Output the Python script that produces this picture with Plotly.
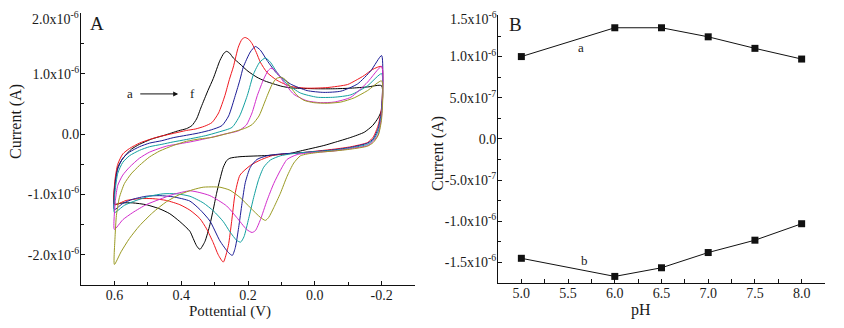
import plotly.graph_objects as go

# ---------------- Panel A: cyclic voltammograms (V, µA), loop: forward then reverse ----------------
a_V = [0.600, 0.598, 0.590, 0.579, 0.565, 0.549, 0.525, 0.489, 0.450, 0.408, 0.384, 0.368, 0.354, 0.340, 0.320, 0.304, 0.284, 0.272, 0.264, 0.255, 0.244, 0.224, 0.200, 0.173, 0.150, 0.123, 0.098, 0.073, 0.030, -0.007, -0.058, -0.108, -0.158, -0.200,
       -0.200, -0.190, -0.173, -0.148, -0.108, -0.058, -0.027, 0.043, 0.073, 0.143, 0.224, 0.254, 0.264, 0.274, 0.284, 0.294, 0.304, 0.314, 0.329, 0.344, 0.354, 0.364, 0.374, 0.404, 0.434, 0.464, 0.505, 0.545, 0.575, 0.600]
a_I = [-1.16, -0.80, -0.55, -0.44, -0.34, -0.25, -0.17, -0.083, -0.02, 0.055, 0.09, 0.14, 0.25, 0.45, 0.72, 0.92, 1.22, 1.34, 1.37, 1.34, 1.26, 1.16, 1.04, 0.94, 0.88, 0.83, 0.79, 0.765, 0.755, 0.75, 0.75, 0.76, 0.78, 0.80,
       0.40, 0.27, 0.14, 0.03, -0.055, -0.14, -0.19, -0.28, -0.32, -0.355, -0.375, -0.40, -0.44, -0.55, -0.75, -0.98, -1.25, -1.50, -1.78, -1.91, -1.85, -1.73, -1.61, -1.45, -1.32, -1.24, -1.17, -1.14, -1.14, -1.16]

b_V = [0.600, 0.598, 0.590, 0.575, 0.555, 0.525, 0.495, 0.464, 0.424, 0.384, 0.358, 0.330, 0.308, 0.288, 0.269, 0.256, 0.244, 0.229, 0.218, 0.209, 0.198, 0.188, 0.175, 0.163, 0.143, 0.113, 0.073, 0.023, -0.037, -0.098, -0.123, -0.148, -0.173, -0.200,
       -0.200, -0.190, -0.175, -0.158, -0.108, -0.058, 0.043, 0.123, 0.163, 0.193, 0.224, 0.239, 0.249, 0.259, 0.274, 0.289, 0.304, 0.324, 0.344, 0.374, 0.404, 0.444, 0.485, 0.525, 0.565, 0.600]
b_I = [-1.17, -0.75, -0.50, -0.33, -0.24, -0.15, -0.09, -0.04, 0.01, 0.06, 0.083, 0.13, 0.19, 0.35, 0.64, 0.90, 1.11, 1.44, 1.57, 1.60, 1.57, 1.50, 1.35, 1.19, 1.02, 0.89, 0.79, 0.76, 0.77, 0.82, 0.89, 0.97, 1.07, 1.12,
       0.45, 0.15, -0.05, -0.14, -0.21, -0.25, -0.31, -0.35, -0.43, -0.52, -0.68, -1.00, -1.45, -1.85, -2.12, -2.00, -1.80, -1.57, -1.40, -1.26, -1.17, -1.10, -1.07, -1.07, -1.10, -1.17]

c_V = [0.600, 0.598, 0.590, 0.575, 0.555, 0.525, 0.495, 0.458, 0.424, 0.384, 0.348, 0.310, 0.278, 0.258, 0.238, 0.224, 0.214, 0.193, 0.178, 0.163, 0.143, 0.113, 0.073, 0.023, -0.027, -0.078, -0.128, -0.168, -0.200,
       -0.200, -0.190, -0.175, -0.158, -0.108, -0.058, 0.043, 0.103, 0.143, 0.173, 0.193, 0.208, 0.218, 0.228, 0.238, 0.247, 0.259, 0.284, 0.314, 0.344, 0.374, 0.424, 0.464, 0.505, 0.545, 0.575, 0.600]
c_I = [-1.25, -0.85, -0.58, -0.40, -0.30, -0.21, -0.15, -0.11, -0.06, -0.02, 0.017, 0.07, 0.14, 0.30, 0.64, 0.90, 1.11, 1.36, 1.45, 1.39, 1.22, 1.00, 0.83, 0.72, 0.69, 0.71, 0.83, 1.05, 1.30,
       0.40, 0.10, -0.08, -0.15, -0.22, -0.26, -0.31, -0.33, -0.36, -0.42, -0.55, -0.80, -1.15, -1.55, -1.88, -2.01, -1.96, -1.77, -1.44, -1.25, -1.11, -1.04, -1.02, -1.03, -1.08, -1.15, -1.25]

d_V = [0.600, 0.598, 0.590, 0.575, 0.555, 0.525, 0.495, 0.458, 0.424, 0.384, 0.328, 0.290, 0.248, 0.225, 0.202, 0.183, 0.165, 0.148, 0.133, 0.113, 0.083, 0.043, -0.007, -0.058, -0.108, -0.158, -0.200,
       -0.200, -0.190, -0.175, -0.158, -0.108, -0.058, 0.043, 0.073, 0.103, 0.133, 0.153, 0.168, 0.183, 0.198, 0.212, 0.222, 0.234, 0.254, 0.274, 0.304, 0.334, 0.374, 0.414, 0.454, 0.495, 0.535, 0.570, 0.600]
d_I = [-1.30, -0.95, -0.65, -0.47, -0.36, -0.27, -0.21, -0.17, -0.13, -0.09, -0.028, 0.03, 0.11, 0.30, 0.64, 1.00, 1.19, 1.26, 1.19, 1.02, 0.83, 0.68, 0.61, 0.61, 0.65, 0.80, 1.00,
       0.35, 0.05, -0.10, -0.17, -0.23, -0.27, -0.31, -0.33, -0.36, -0.43, -0.55, -0.75, -1.05, -1.40, -1.70, -1.79, -1.76, -1.62, -1.45, -1.27, -1.14, -1.03, -0.99, -0.99, -1.03, -1.10, -1.18, -1.30]

e_V = [0.600, 0.597, 0.590, 0.575, 0.555, 0.525, 0.495, 0.444, 0.404, 0.364, 0.310, 0.270, 0.228, 0.205, 0.188, 0.172, 0.153, 0.140, 0.131, 0.123, 0.113, 0.093, 0.063, 0.023, -0.017, -0.058, -0.108, -0.158, -0.200,
       -0.200, -0.190, -0.175, -0.158, -0.108, -0.058, 0.013, 0.053, 0.083, 0.103, 0.123, 0.143, 0.163, 0.178, 0.188, 0.204, 0.234, 0.264, 0.314, 0.344, 0.374, 0.424, 0.464, 0.505, 0.545, 0.575, 0.600]
e_I = [-1.58, -1.10, -0.85, -0.68, -0.55, -0.40, -0.30, -0.20, -0.16, -0.12, -0.055, 0.00, 0.055, 0.15, 0.35, 0.64, 0.91, 1.05, 1.09, 1.07, 1.02, 0.86, 0.66, 0.55, 0.52, 0.53, 0.61, 0.86, 1.12,
       0.30, 0.00, -0.12, -0.19, -0.24, -0.28, -0.31, -0.34, -0.42, -0.60, -0.82, -1.10, -1.42, -1.60, -1.63, -1.58, -1.38, -1.19, -1.02, -0.97, -0.94, -1.00, -1.08, -1.17, -1.30, -1.42, -1.58]

f_V = [0.600, 0.598, 0.594, 0.585, 0.570, 0.550, 0.525, 0.495, 0.464, 0.424, 0.384, 0.344, 0.308, 0.248, 0.207, 0.187, 0.167, 0.152, 0.142, 0.128, 0.115, 0.100, 0.088, 0.073, 0.053, 0.033, 0.003, -0.037, -0.078, -0.118, -0.158, -0.200,
       -0.200, -0.190, -0.175, -0.158, -0.108, -0.058, -0.017, 0.023, 0.043, 0.063, 0.083, 0.103, 0.123, 0.138, 0.148, 0.163, 0.193, 0.224, 0.254, 0.284, 0.304, 0.334, 0.364, 0.404, 0.444, 0.485, 0.525, 0.555, 0.580, 0.600]
f_I = [-2.16, -1.70, -1.35, -1.05, -0.82, -0.66, -0.52, -0.38, -0.28, -0.19, -0.12, -0.08, -0.055, 0.03, 0.10, 0.16, 0.30, 0.50, 0.64, 0.82, 0.92, 0.94, 0.90, 0.78, 0.64, 0.56, 0.52, 0.51, 0.53, 0.60, 0.72, 0.88,
       0.25, -0.02, -0.14, -0.20, -0.25, -0.28, -0.30, -0.33, -0.36, -0.48, -0.70, -0.98, -1.22, -1.38, -1.43, -1.38, -1.22, -1.05, -0.93, -0.88, -0.875, -0.88, -0.92, -1.00, -1.12, -1.30, -1.52, -1.73, -1.95, -2.16]

cv_curves = [("a", a_V, a_I), ("b", b_V, b_I), ("c", c_V, c_I),
             ("d", d_V, d_I), ("e", e_V, e_I), ("f", f_V, f_I)]
cv_colors = ["#000000", "#f0171e", "#1c1c96", "#12a0a0", "#d22ccc", "#9a9a22"]

# ---------------- Panel B: peak current vs pH ----------------
pH = [5.0, 6.0, 6.5, 7.0, 7.5, 8.0]
Ipa = [1.00, 1.35, 1.35, 1.24, 1.10, 0.97]      # µA
Ipc = [-1.45, -1.67, -1.565, -1.38, -1.23, -1.03]  # µA

# tick values / labels (top labels of each y axis are drawn as annotations so the
# superscript is not clipped by the page edge)
A_yticks = [2.0, 1.0, 0.0, -1.0, -2.0]
A_yticktext = ["", "1.0x10<sup>-6</sup>", "0.0",
               "-1.0x10<sup>-6</sup>", "-2.0x10<sup>-6</sup>"]
A_ytop_label = "2.0x10<sup>-6</sup>"
A_xticks = [0.6, 0.4, 0.2, 0.0, -0.2]
A_xticktext = ["0.6", "0.4", "0.2", "0.0", "-0.2"]
B_yticks = [1.5, 1.0, 0.5, 0.0, -0.5, -1.0, -1.5]
B_yticktext = ["", "1.0x10<sup>-6</sup>", "5.0x10<sup>-7</sup>", "0.0",
               "-5.0x10<sup>-7</sup>", "-1.0x10<sup>-6</sup>", "-1.5x10<sup>-6</sup>"]
B_ytop_label = "1.5x10<sup>-6</sup>"
B_xticks = [5.0, 5.5, 6.0, 6.5, 7.0, 7.5, 8.0]
B_xticktext = ["5.0", "5.5", "6.0", "6.5", "7.0", "7.5", "8.0"]

U = 1e-6  # µA -> A
FONT = "Liberation Serif, Times New Roman, serif"
TXT = "#1a1a1a"

fig = go.Figure()
for (name, V, I), col in zip(cv_curves, cv_colors):
    fig.add_trace(go.Scatter(x=V, y=[v * U for v in I], mode="lines", name=name,
                             line=dict(color=col, width=1, shape="spline", smoothing=0.6),
                             xaxis="x", yaxis="y", showlegend=False))

fig.add_trace(go.Scatter(x=pH, y=[v * U for v in Ipa], mode="lines+markers", name="a",
                         line=dict(color="#111111", width=1),
                         marker=dict(symbol="square", size=7, color="#111111"),
                         xaxis="x2", yaxis="y2", showlegend=False))
fig.add_trace(go.Scatter(x=pH, y=[v * U for v in Ipc], mode="lines+markers", name="b",
                         line=dict(color="#111111", width=1),
                         marker=dict(symbol="square", size=7, color="#111111"),
                         xaxis="x2", yaxis="y2", showlegend=False))

# page has an 8px body margin: size the figure to fit and place everything in window pixels
OFF = 8
W, H = 844 - 2 * OFF, 328 - 2 * OFF
def px_x(p): return (p - OFF) / W
def px_y(p): return (H - (p - OFF)) / H

axis_common = dict(showline=True, linecolor="#111111", linewidth=1, mirror=False,
                   showgrid=False, zeroline=False, ticks="inside", ticklen=4,
                   tickcolor="#111111", tickwidth=1, automargin=False,
                   ticklabeloverflow="allow",
                   tickfont=dict(family=FONT, size=14, color=TXT))

fig.update_layout(
    width=W, height=H, margin=dict(l=0, r=0, t=0, b=0, autoexpand=False),
    paper_bgcolor="white", plot_bgcolor="white",
    font=dict(family=FONT, color=TXT),
    xaxis=dict(domain=[px_x(81), px_x(415)], range=[0.7, -0.3], anchor="y",
               tickmode="array", tickvals=A_xticks, ticktext=A_xticktext,
               ticklabelstandoff=-3,
               minor=dict(tickmode="array", tickvals=[0.5, 0.3, 0.1, -0.1, -0.3],
                          ticks="inside", ticklen=3, tickcolor="#111111"),
               **axis_common),
    yaxis=dict(domain=[px_y(285), px_y(13)], range=[-2.5e-6, 2.005e-6], anchor="x",
               tickmode="array", tickvals=[v * U for v in A_yticks], ticktext=A_yticktext,
               ticklabelstandoff=-2,
               minor=dict(tickmode="array", tickvals=[v * U for v in [1.5, 0.5, -0.5, -1.5, -2.5]],
                          ticks="inside", ticklen=3, tickcolor="#111111"),
               **axis_common),
    xaxis2=dict(domain=[px_x(498), px_x(825)], range=[4.75, 8.25], anchor="y2",
                tickmode="array", tickvals=B_xticks, ticktext=B_xticktext,
                ticklabelstandoff=-3,
                minor=dict(tickmode="array", tickvals=[5.25, 5.75, 6.25, 6.75, 7.25, 7.75],
                           ticks="inside", ticklen=4, tickcolor="#111111"),
                **axis_common),
    yaxis2=dict(domain=[px_y(283), px_y(15)], range=[-1.75e-6, 1.505e-6], anchor="x2",
                tickmode="array", tickvals=[v * U for v in B_yticks], ticktext=B_yticktext,
                ticklabelstandoff=-2,
                minor=dict(tickmode="array", tickvals=[v * U for v in [1.25, 0.75, 0.25, -0.25, -0.75, -1.25]],
                           ticks="inside", ticklen=3, tickcolor="#111111"),
                **axis_common),
)

def label(text, x, y, size, angle=0, xref="paper", yref="paper", xanchor="center", yanchor="middle"):
    return dict(text=text, x=x, y=y, xref=xref, yref=yref, showarrow=False,
                xanchor=xanchor, yanchor=yanchor, textangle=angle, borderpad=0,
                font=dict(family=FONT, size=size, color=TXT))

ann = [
    label(A_ytop_label, px_x(80), 1.0, 14, xanchor="right", yanchor="top"),
    label(B_ytop_label, px_x(498), 1.0, 14, xanchor="right", yanchor="top"),
    label("Pottential (V)", px_x(230), px_y(311), 15),
    label("Current (A)", px_x(16), px_y(122), 16, angle=-90),
    label("pH", px_x(641), px_y(310), 16),
    label("Current (A)", px_x(438), px_y(154), 16, angle=-90),
    label("A", px_x(97), px_y(23), 19),
    label("B", px_x(515), px_y(24), 19),
    label("a", 0.553, 0.665e-6, 13, xref="x", yref="y"),
    label("f", 0.366, 0.665e-6, 13, xref="x", yref="y"),
    dict(text="", x=0.409, y=0.665e-6, ax=0.527, ay=0.665e-6, xref="x", yref="y",
         axref="x", ayref="y", showarrow=True, arrowhead=2, arrowsize=1,
         arrowwidth=1, arrowcolor="#111111"),
    label("a", 5.64, 1.11e-6, 13, xref="x2", yref="y2"),
    label("b", 5.68, -1.48e-6, 13, xref="x2", yref="y2"),
]
fig.update_layout(annotations=ann)

fig.write_html("out.html")
